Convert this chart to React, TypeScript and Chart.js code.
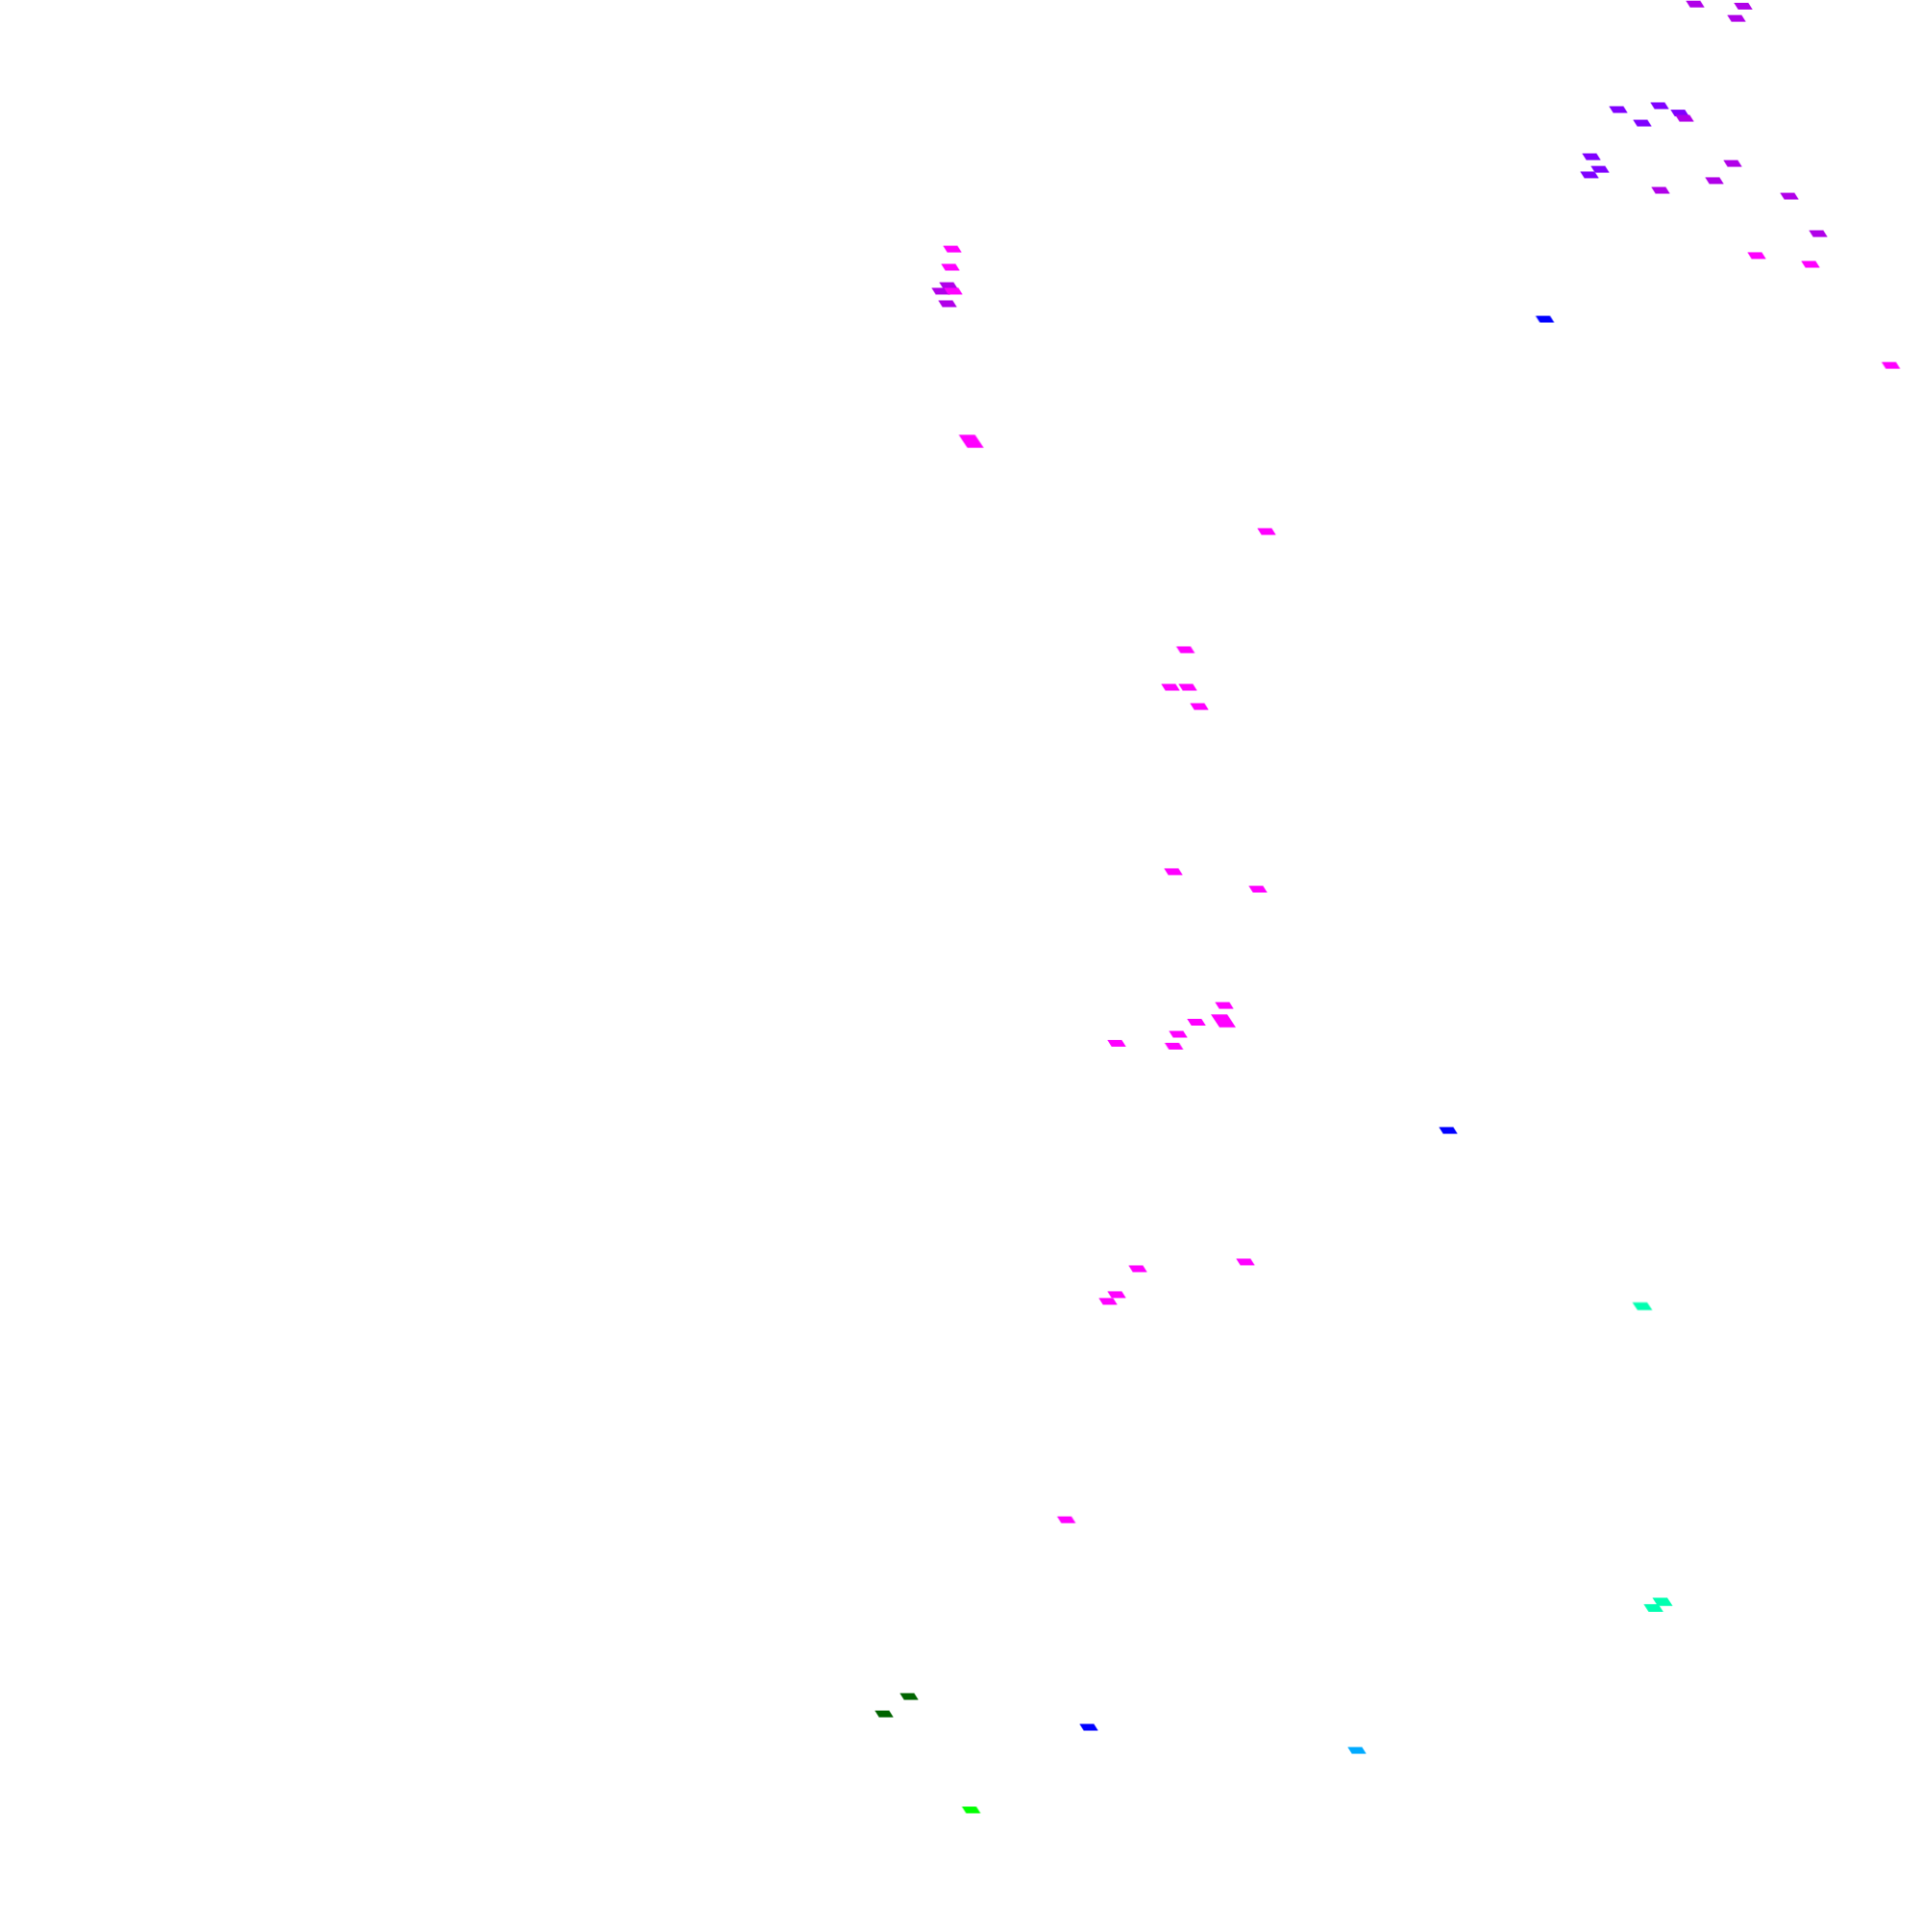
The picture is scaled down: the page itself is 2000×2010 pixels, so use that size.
import React, { useEffect, useRef } from "react";
import { Chart, registerables } from "chart.js";

Chart.register(...registerables);

// Each point: [x, y, size]  (size 1 = normal marker, 2 = large marker)
const magentaPoints: number[][] = [
  [91.4, 86.77, 1], [94.2, 86.32, 1], [98.38, 81.09, 1], [49.55, 87.11, 1],
  [49.45, 86.17, 1], [49.6, 84.93, 1], [50.53, 77.16, 2], [65.9, 72.49, 1],
  [61.68, 66.37, 1], [60.9, 64.43, 1], [61.8, 64.43, 1], [62.4, 63.43, 1],
  [61.05, 54.88, 1], [65.45, 53.98, 1], [63.7, 47.96, 1], [63.65, 47.16, 2],
  [62.25, 47.09, 1], [61.3, 46.47, 1], [58.1, 46.0, 1], [61.08, 45.85, 1],
  [59.2, 34.33, 1], [64.8, 34.68, 1], [58.1, 32.99, 1], [57.65, 32.64, 1],
  [55.48, 21.34, 1],
];
const purplePoints: number[][] = [
  [88.2, 99.79, 1], [90.7, 99.68, 1], [90.35, 99.05, 1], [87.65, 93.88, 1],
  [90.15, 91.54, 1], [89.2, 90.65, 1], [86.4, 90.15, 1], [93.1, 89.85, 1],
  [94.6, 87.91, 1], [49.35, 85.22, 1], [48.95, 84.93, 1], [49.3, 84.28, 1],
];
const violetPoints: number[][] = [
  [84.2, 94.33, 1], [86.35, 94.53, 1], [87.4, 94.15, 1], [85.45, 93.63, 1],
  [82.8, 91.89, 1], [83.25, 91.24, 1], [82.7, 90.95, 1],
];
const bluePoints: number[][] = [
  [80.38, 83.48, 1], [75.35, 41.49, 1], [56.65, 10.6, 1],
];
const skyPoints: number[][] = [[70.6, 9.4, 1]];
const tealPoints: number[][] = [
  [85.45, 32.39, 1.2], [86.5, 17.09, 1.25], [86.03, 16.77, 1.15],
];
const darkGreenPoints: number[][] = [[47.3, 12.19, 1], [46.0, 11.29, 1]];
const greenPoints: number[][] = [[50.53, 6.32, 1]];

const groups = [
  { name: "magenta", color: "#FF00FF", points: magentaPoints },
  { name: "purple", color: "#B000E8", points: purplePoints },
  { name: "violet", color: "#7F00FF", points: violetPoints },
  { name: "blue", color: "#0000FF", points: bluePoints },
  { name: "sky", color: "#00AAFF", points: skyPoints },
  { name: "teal", color: "#00FFB0", points: tealPoints },
  { name: "darkgreen", color: "#006400", points: darkGreenPoints },
  { name: "green", color: "#00FF00", points: greenPoints },
];

function makeMarker(color: string, size: number): HTMLCanvasElement {
  const h = 6.8 * size;
  const w = 15 + (size - 1) * 2;
  const skew = 0.66 * h;
  const c = document.createElement("canvas");
  c.width = Math.ceil(w + skew) + 2;
  c.height = Math.ceil(h) + 2;
  const g = c.getContext("2d")!;
  const ox = (c.width - (w + skew)) / 2;
  const oy = (c.height - h) / 2;
  g.fillStyle = color;
  g.beginPath();
  g.moveTo(ox, oy);
  g.lineTo(ox + w, oy);
  g.lineTo(ox + w + skew, oy + h);
  g.lineTo(ox + skew, oy + h);
  g.closePath();
  g.fill();
  return c;
}

export default function App() {
  const ref = useRef<HTMLCanvasElement | null>(null);
  useEffect(() => {
    document.body.style.margin = "0";
    const markers = groups.map((gr) => gr.points.map((p) => makeMarker(gr.color, p[2])));
    const chart = new Chart(ref.current!, {
      type: "scatter",
      data: {
        datasets: groups.map((gr, gi) => ({
          label: gr.name,
          data: gr.points.map((p) => ({ x: p[0], y: p[1] })),
          backgroundColor: gr.color,
          borderColor: gr.color,
          pointRadius: 0.2,
          pointHoverRadius: 0,
          pointBorderWidth: 0,
          pointHoverBorderWidth: 0,
          pointHitRadius: 0,
          pointStyle: (ctx: any) => markers[gi][ctx.dataIndex] as any,
          clip: false as any,
        })),
      },
      options: {
        animation: false,
        responsive: false,
        maintainAspectRatio: false,
        layout: { padding: 0, autoPadding: false } as any,
        plugins: { legend: { display: false }, tooltip: { enabled: false } },
        scales: {
          x: { type: "linear", min: 0, max: 100, display: false },
          y: { type: "linear", min: 0, max: 100, display: false },
        },
      },
    });
    return () => chart.destroy();
  }, []);
  return (
    <div style={{ position: "absolute", left: 0, top: 0, width: 2000, height: 2010, background: "#fff" }}>
      <canvas ref={ref} width={2000} height={2010} style={{ width: 2000, height: 2010, display: "block" }} />
    </div>
  );
}
